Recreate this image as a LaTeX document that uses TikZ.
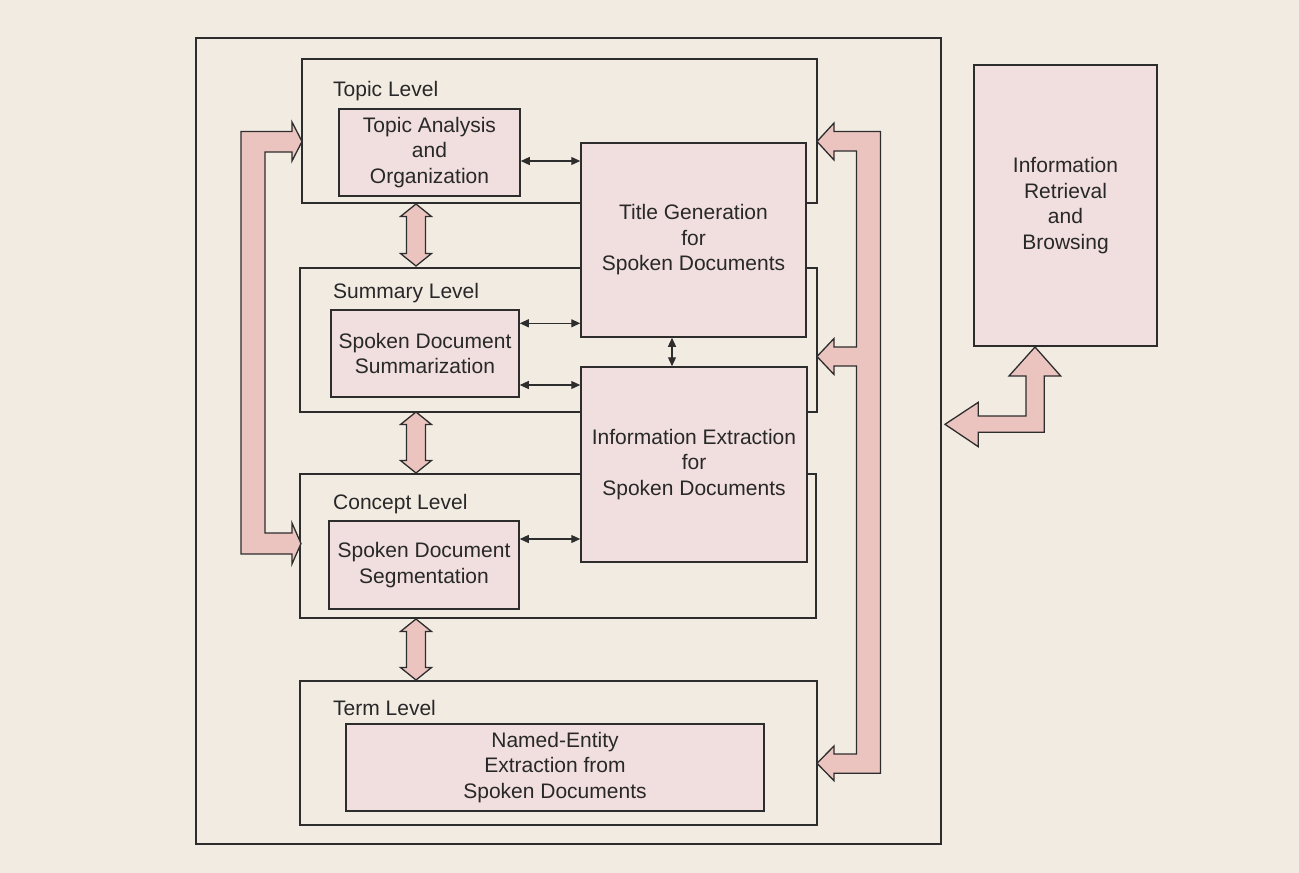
\documentclass[tikz,border=0pt]{standalone}
\usepackage{fontspec}
\setmainfont{Liberation Sans}
\usetikzlibrary{arrows.meta}
\definecolor{bgc}{RGB}{242,235,226}
\definecolor{boxc}{RGB}{240,223,222}
\definecolor{arrc}{RGB}{235,196,192}
\definecolor{linec}{RGB}{45,45,45}
\definecolor{txtc}{RGB}{40,40,40}
\begin{document}
\begin{tikzpicture}[x=1pt,y=-1pt,
  lvl/.style={draw=linec,line width=1.5pt,inner sep=0pt},
  pbox/.style={draw=linec,line width=1.5pt,fill=boxc,inner sep=0pt,align=center,text=txtc,font=\fontsize{21}{25.5}\selectfont},
  lbl/.style={anchor=base west,inner sep=0pt,text=txtc,font=\fontsize{21}{25.5}\selectfont},
  thinarr/.style={draw=linec,line width=1.2pt,{Triangle[length=9pt,width=8pt]}-{Triangle[length=9pt,width=8pt]}},
  bigarr/.style={draw=linec,line width=1.3pt,fill=arrc,line join=miter}]
\fill[bgc] (0,0) rectangle (1299,873);
\useasboundingbox (0,0) rectangle (1299,873);

% outer frame and level boxes
\node[lvl,minimum width=745pt,minimum height=806pt] (outer) at (568.5,441) {};
\node[lvl,minimum width=515pt,minimum height=144pt] (topic) at (559.5,131) {};
\node[lvl,minimum width=517pt,minimum height=144pt] (summary) at (558.5,340) {};
\node[lvl,minimum width=516pt,minimum height=144pt] (concept) at (558,546) {};
\node[lvl,minimum width=517pt,minimum height=144pt] (term) at (558.5,753) {};

% level labels
\node[lbl] (ltopic) at (333,96) {Topic Level};
\node[lbl] (lsummary) at (333,298.3) {Summary Level};
\node[lbl] (lconcept) at (333,509.3) {Concept Level};
\node[lbl] (lterm) at (333,715) {Term Level};

% inner boxes
\node[pbox,minimum width=181pt,minimum height=87pt] (topicA) at (429.5,152.5) {Topic Analysis\\and\\Organization};
\node[pbox,minimum width=188pt,minimum height=87pt] (summ) at (425,353.5) {Spoken Document\\Summarization};
\node[pbox,minimum width=190pt,minimum height=88pt] (seg) at (424,565) {Spoken Document\\Segmentation};
\node[pbox,minimum width=418pt,minimum height=87pt] (named) at (555,767.5) {Named-Entity\\Extraction from\\Spoken Documents};
\node[pbox,minimum width=225pt,minimum height=194pt] (title) at (693.5,240) {Title Generation\\for\\Spoken Documents};
\node[pbox,minimum width=226pt,minimum height=195pt] (infoext) at (694,464.5) {Information Extraction\\for\\Spoken Documents};
\node[pbox,minimum width=183pt,minimum height=281pt] (ir) at (1065.5,205.5) {Information\\Retrieval\\and\\Browsing};

% thin double arrows
\coordinate (yA) at (0,161);
\coordinate (yB) at (0,323.3);
\coordinate (yC) at (0,385);
\coordinate (yD) at (0,539);
\coordinate (xV) at (672,0);
\draw[thinarr] (topicA.east |- yA) -- (title.west |- yA);
\draw[thinarr] (summ.east |- yB) -- (title.west |- yB);
\draw[thinarr] (summ.east |- yC) -- (infoext.west |- yC);
\draw[thinarr] (seg.east |- yD) -- (infoext.west |- yD);
\draw[thinarr] (title.south -| xV) -- (infoext.north -| xV);

% hollow double arrows between levels
\foreach \yt/\yb in {204/266,412/473,619/680}{
  \draw[bigarr] (416,\yt) -- (431.5,\yt+12.5) -- (425.5,\yt+12.5) -- (425.5,\yb-12.5) -- (431.5,\yb-12.5)
    -- (416,\yb) -- (400.5,\yb-12.5) -- (406.5,\yb-12.5) -- (406.5,\yt+12.5) -- (400.5,\yt+12.5) -- cycle;
}

% left bracket arrow
\draw[bigarr] (241,131.5) -- (292,131.5) -- (292,122) -- (302,141.5) -- (292,161) -- (292,152) -- (265,152)
  -- (265,533) -- (292,533) -- (292,523) -- (301,543.5) -- (292,564) -- (292,554) -- (241,554) -- cycle;

% right bracket arrow
\draw[bigarr] (880.5,131.5) -- (834,131.5) -- (834,123) -- (817,141.5) -- (834,160) -- (834,151) -- (856.5,151)
  -- (856.5,347) -- (834,347) -- (834,338.5) -- (817,356.5) -- (834,374.5) -- (834,366) -- (856.5,366)
  -- (856.5,754) -- (834,754) -- (834,746) -- (817,763.3) -- (834,780.7) -- (834,773.3) -- (880.5,773.3) -- cycle;

% L-shaped arrow to Information Retrieval
\draw[bigarr] (1035,347) -- (1060.7,376) -- (1044.3,376) -- (1044.3,432.3) -- (978.3,432.3) -- (978.3,446.7)
  -- (945,424.3) -- (978.3,402.3) -- (978.3,416) -- (1026,416) -- (1026,376) -- (1009,376) -- cycle;
\end{tikzpicture}
\end{document}
